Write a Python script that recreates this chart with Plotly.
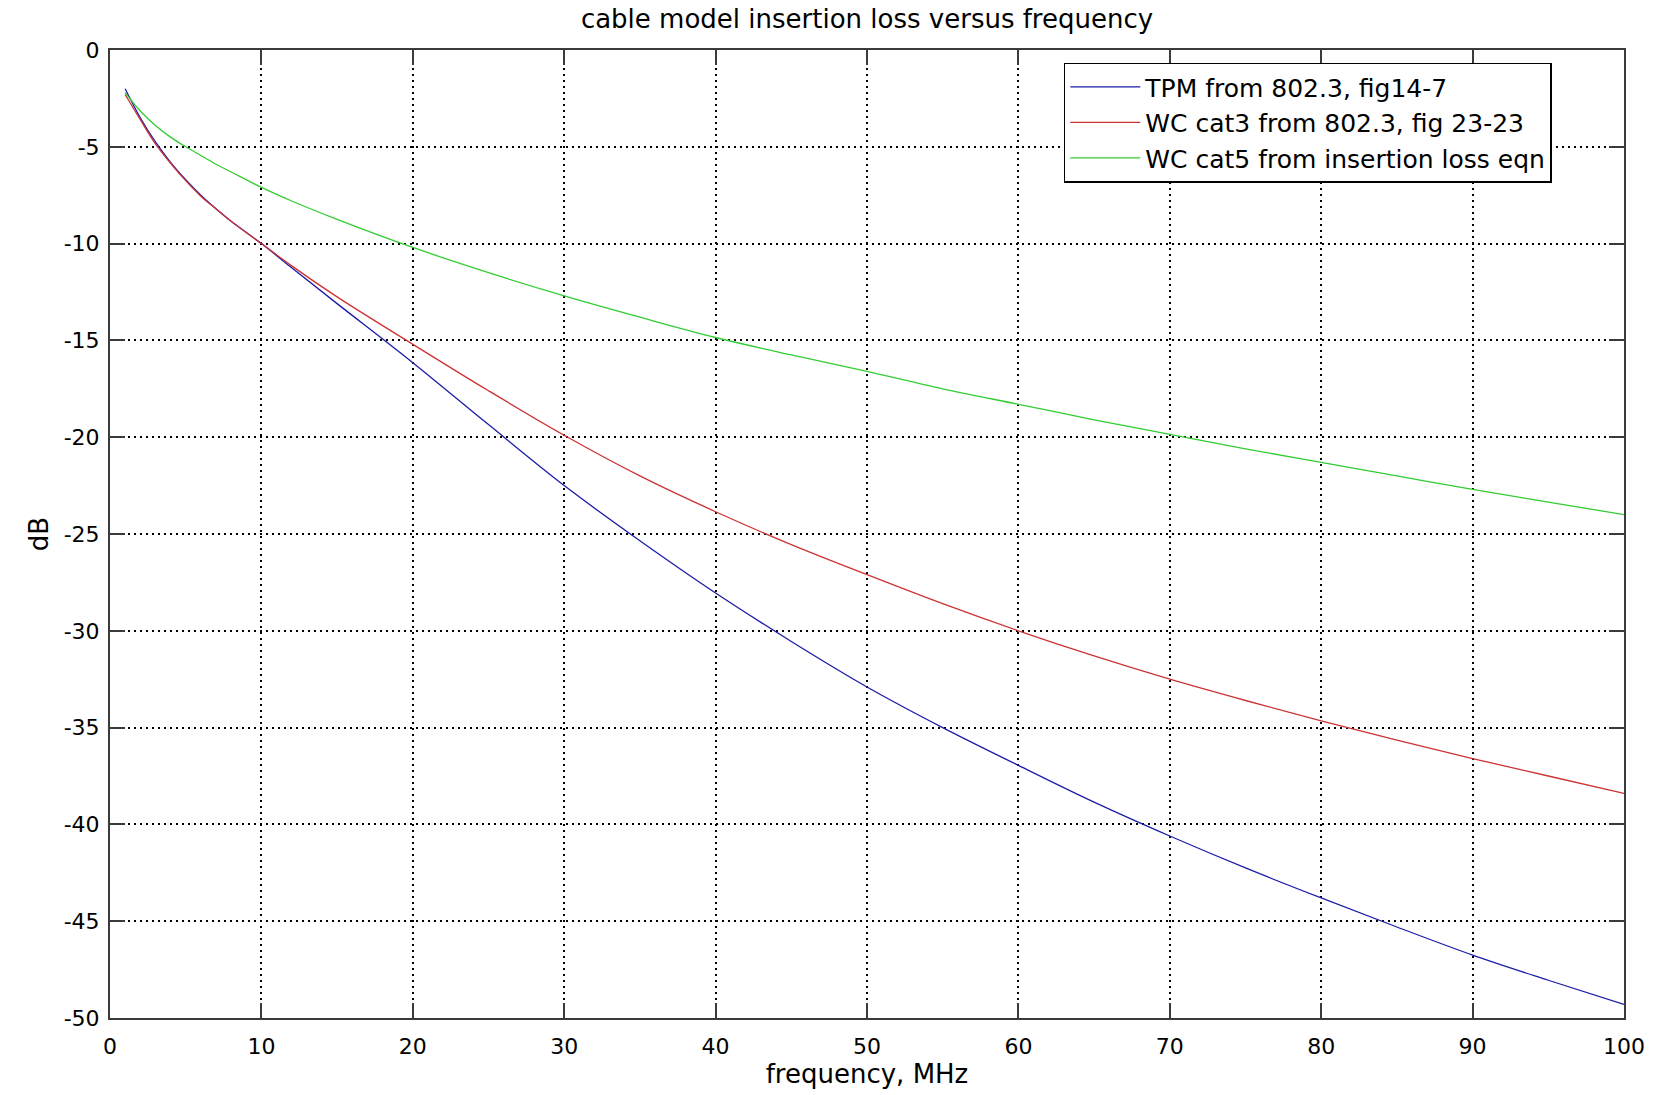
import plotly.graph_objects as go

# frequency points (MHz)
freq = [1, 2, 3, 4, 5, 6, 7, 8, 10, 12, 15, 20, 25, 30, 35, 40, 45, 50,
        55, 60, 65, 70, 75, 80, 85, 90, 95, 100]

# TPM from 802.3, fig14-7
tpm = [-2.0, -3.5, -4.75, -5.8, -6.7, -7.5, -8.2, -8.85, -10.0, -11.25, -13.1,
       -16.15, -19.35, -22.5, -25.35, -28.05, -30.55, -32.9, -35.0, -36.95, -38.85,
       -40.6, -42.25, -43.8, -45.3, -46.75, -48.05, -49.3]

# WC cat3 from 802.3, fig 23-23
cat3 = [-2.3, -3.6, -4.85, -5.85, -6.75, -7.55, -8.2, -8.85, -10.0, -11.15, -12.75,
        -15.2, -17.6, -19.9, -22.0, -23.85, -25.55, -27.1, -28.6, -30.0, -31.3,
        -32.5, -33.6, -34.65, -35.65, -36.6, -37.5, -38.4]

# WC cat5 from insertion loss eqn
cat5 = [-2.2, -3.15, -3.9, -4.5, -5.0, -5.45, -5.9, -6.3, -7.1, -7.8, -8.75,
        -10.2, -11.5, -12.7, -13.8, -14.85, -15.75, -16.6, -17.5, -18.3, -19.1,
        -19.85, -20.6, -21.3, -22.0, -22.7, -23.35, -24.0]

series_names = ["TPM from 802.3, fig14-7",
                "WC cat3 from 802.3, fig 23-23",
                "WC cat5 from insertion loss eqn"]
series_colors = ["#1c1ca8", "#cc3333", "#33cc33"]

x_ticks = [0, 10, 20, 30, 40, 50, 60, 70, 80, 90, 100]
y_ticks = [0, -5, -10, -15, -20, -25, -30, -35, -40, -45, -50]

FONT = "DejaVu Sans, Liberation Sans, Arial, sans-serif"

fig = go.Figure()
for name, ys, col in zip(series_names, [tpm, cat3, cat5], series_colors):
    fig.add_trace(go.Scatter(x=freq, y=ys, mode="lines", name=name,
                             line=dict(color=col, width=1.3), line_shape="spline"))

axis_common = dict(
    showline=True, linecolor="#3a3a3a", linewidth=2, mirror="ticks",
    ticks="inside", ticklen=15, tickwidth=2, tickcolor="#3a3a3a",
    showgrid=True, gridcolor="#000000", gridwidth=1.5, griddash="1.5px,4.5px",
    zeroline=False,
    tickfont=dict(family=FONT, size=22, color="black"),
)

fig.update_layout(
    width=1656, height=1095,
    paper_bgcolor="white", plot_bgcolor="white",
    margin=dict(l=110, r=32, t=50, b=77),
    title=dict(text="cable model insertion loss versus frequency",
               x=(110 + 1624) / 2 / 1656, xanchor="center",
               y=1 - 19 / 1095, yanchor="middle",
               font=dict(family=FONT, size=26, color="black")),
    xaxis=dict(range=[0, 100], tickvals=x_ticks, ticktext=[str(v) for v in x_ticks],
               ticklabelstandoff=8,
               title=dict(text="frequency, MHz", standoff=2,
                          font=dict(family=FONT, size=26, color="black")),
               **axis_common),
    yaxis=dict(range=[-50, 0], tickvals=y_ticks, ticktext=[str(v) for v in y_ticks],
               ticklabelstandoff=4,
               title=dict(text="dB", standoff=8,
                          font=dict(family=FONT, size=26, color="black")),
               **axis_common),
    legend=dict(x=0.630, y=0.987, xanchor="left", yanchor="top",
                bgcolor="white", bordercolor="black", borderwidth=1.5,
                font=dict(family=FONT, size=25, color="black"),
                tracegroupgap=0, itemwidth=70),
    showlegend=True,
)

fig.write_html("out.html", config={"displayModeBar": False},
               post_script="document.body.style.margin='0';")
